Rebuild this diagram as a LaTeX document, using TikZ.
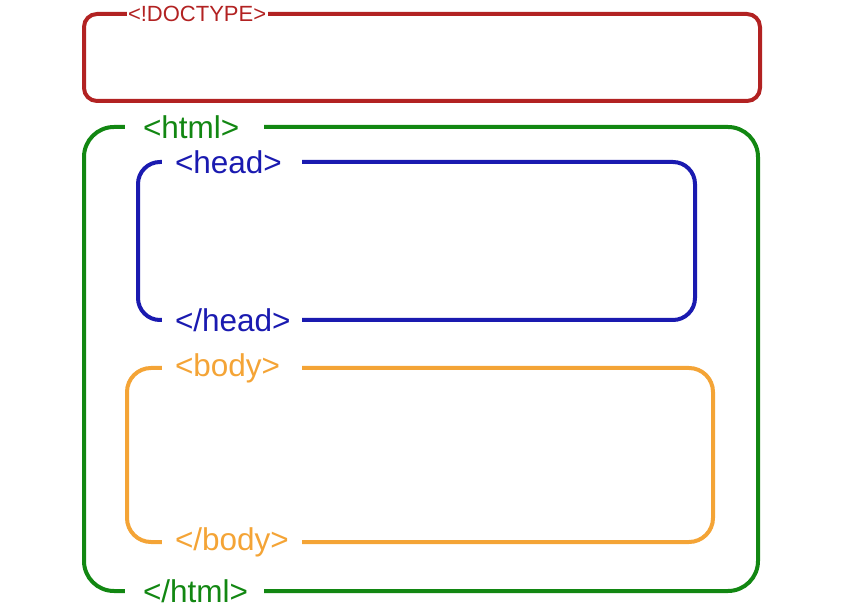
\documentclass[tikz,border=0pt]{standalone}
\usepackage{fontspec}
\setmainfont{Liberation Sans}
\usetikzlibrary{positioning}

\definecolor{doctypered}{RGB}{178,34,34}
\definecolor{htmlgreen}{RGB}{18,135,18}
\definecolor{headblue}{RGB}{26,26,176}
\definecolor{bodyorange}{RGB}{244,164,54}

\begin{document}
\begin{tikzpicture}[x=1pt, y=-1pt,
    tag/.style={inner xsep=13pt, inner ysep=0pt, text width=114pt, align=left, font=\fontsize{31.5}{36}\selectfont},
    tagbox/.style={line width=4pt, rounded corners=#1}]

    \useasboundingbox (0,0) rectangle (849,609);

    % doctype
    \node [tag, inner xsep=1pt, text width=139pt, doctypered, font=\fontsize{22}{26}\selectfont] (doctype) at (197.5,14) {<!DOCTYPE>};
    \draw [tagbox=13pt, doctypered] (doctype.east) -| (760,101) -| (84,14) -- (doctype.west);

    % html
    \node [tag, inner xsep=18pt, text width=103pt, htmlgreen] (htmlopen) at (194.5,127) {<html>};
    \node [tag, inner xsep=18pt, text width=103pt, htmlgreen] (htmlclose) at (194.5,591) {</html>};
    \draw [tagbox=30pt, htmlgreen] (htmlopen.west) -| (84,591) -- (htmlclose.west);
    \draw [tagbox=30pt, htmlgreen] (htmlopen.east) -| (758,591) -- (htmlclose.east);

    % head
    \node [tag, headblue] (headopen) at (232,162) {<head>};
    \node [tag, headblue] (headclose) at (232,320) {</head>};
    \draw [tagbox=22pt, headblue] (headopen.west) -| (138,320) -- (headclose.west);
    \draw [tagbox=22pt, headblue] (headopen.east) -| (695,320) -- (headclose.east);

    % body
    \node [tag, bodyorange] (bodyopen) at (232,368) {<body>};
    \node [tag, bodyorange] (bodyclose) at (232,542) {</body>};
    \draw [tagbox=24pt, bodyorange] (bodyopen.west) -| (127,542) -- (bodyclose.west);
    \draw [tagbox=24pt, bodyorange] (bodyopen.east) -| (713,542) -- (bodyclose.east);
\end{tikzpicture}
\end{document}
